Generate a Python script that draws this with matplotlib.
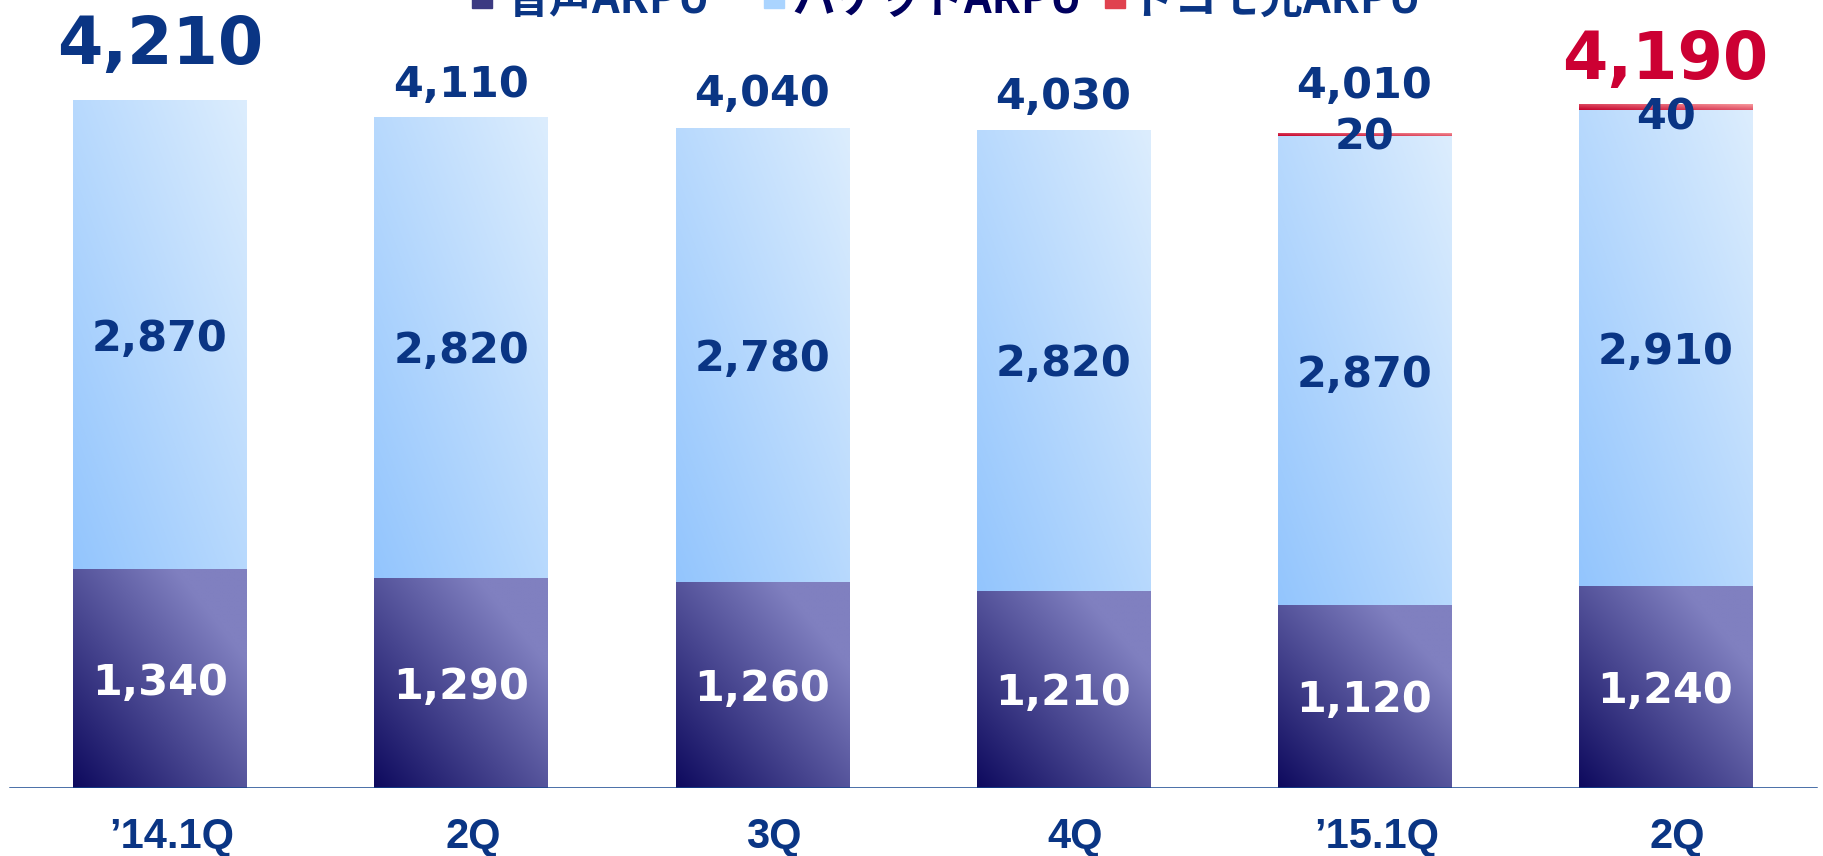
import numpy as np
import matplotlib.pyplot as plt
from matplotlib.colors import to_rgb
from matplotlib.patches import Rectangle
from matplotlib.transforms import ScaledTranslation

quarters = ["’14.1Q", "2Q", "3Q", "4Q", "’15.1Q", "2Q"]
voice = [1340, 1290, 1260, 1210, 1120, 1240]
packet = [2870, 2820, 2780, 2820, 2870, 2910]
hikari = [0, 0, 0, 0, 20, 40]
series_names = ["音声ARPU", "パケットARPU", "ドコモ光ARPU"]

NAVY = "#0a3584"
RED = "#cc0033"
NUM_FONT = "DejaVu Sans"
CAP = 0.729  # cap height of DejaVu Sans Bold, in em

# gradient end points (bottom-left -> top-right) and how fast they saturate
grads = {
    "voice": ("#0e0a5e", "#8080c0", 0.8),
    "packet": ("#93c5fd", "#dcedfd", 1.0),
    "hikari": ("#c4002a", "#fca5a5", 1.0),
}


def gradient(c0, c1, sat, n=80):
    u, v = np.meshgrid(np.linspace(0, 1, n), np.linspace(0, 1, n))
    t = np.clip((u + v) / 2 / sat, 0, 1)[..., None]
    return (1 - t) * np.array(to_rgb(c0)) + t * np.array(to_rgb(c1))


def fill_bars(ax, bars, key):
    img = gradient(*grads[key])
    for p in bars.patches:
        if p.get_height() <= 0:
            continue
        x0, y0 = p.get_x(), p.get_y()
        im = ax.imshow(img, extent=[x0, x0 + p.get_width(), y0, y0 + p.get_height()],
                       origin="lower", aspect="auto", interpolation="bilinear", zorder=2)
        im.set_clip_path(p)


fig = plt.figure(figsize=(18.23, 8.56), dpi=100)
ax = fig.add_axes([0, 67.7 / 856, 1, 788.3 / 856])

x = np.arange(len(quarters))
w = 0.575
voice_a = np.array(voice)
packet_a = np.array(packet)
hikari_a = np.array(hikari)
totals = voice_a + packet_a + hikari_a

b1 = ax.bar(x, voice_a, w, color="none", linewidth=0)
b2 = ax.bar(x, packet_a, w, bottom=voice_a, color="none", linewidth=0)
b3 = ax.bar(x, hikari_a, w, bottom=voice_a + packet_a, color="none", linewidth=0)
fill_bars(ax, b1, "voice")
fill_bars(ax, b2, "packet")
fill_bars(ax, b3, "hikari")

ax.set_xlim(-0.531, 5.523)
ax.set_ylim(0, 788.3 / 0.1634)
for s in ax.spines.values():
    s.set_visible(False)
ax.set_yticks([])
ax.axhline(0, xmin=10 / 1823, xmax=1816 / 1823, color="#14458f", lw=1.8, zorder=3)

ax.set_xticks(x, quarters)
ax.tick_params(axis="x", length=0, pad=21)
nudge = ScaledTranslation(12 / 100, 0, fig.dpi_scale_trans)
for lab in ax.get_xticklabels():
    lab.set_fontfamily(["Liberation Sans Narrow", "Liberation Sans"])
    lab.set_fontweight("bold")
    lab.set_fontsize(30)
    lab.set_color(NAVY)
    lab.set_transform(lab.get_transform() + nudge)

# segment values, centred in each segment
fs = 31
for i in range(len(x)):
    ax.annotate(f"{voice[i]:,}", (x[i], voice[i] / 2), xytext=(0, -CAP * fs / 2),
                textcoords="offset points", ha="center", va="baseline",
                fontsize=fs, fontweight="bold", family=NUM_FONT, color="white", zorder=4)
    ax.annotate(f"{packet[i]:,}", (x[i], voice[i] + packet[i] / 2), xytext=(0, -CAP * fs / 2),
                textcoords="offset points", ha="center", va="baseline",
                fontsize=fs, fontweight="bold", family=NUM_FONT, color=NAVY, zorder=4)

# thin hikari segments: label sits just on / under the strip
hikari_shift = [0, 0, 0, 0, -0.4, -7.2]
for i in range(len(x)):
    if hikari[i] > 0:
        ax.annotate(f"{hikari[i]:,}", (x[i], totals[i]),
                    xytext=(0, hikari_shift[i] - CAP * fs / 2), textcoords="offset points",
                    ha="center", va="baseline", fontsize=fs, fontweight="bold",
                    family=NUM_FONT, color=NAVY, zorder=4)

# totals above the bars; first and latest quarter emphasised
total_pad = [26, 14.4, 15.8, 14.8, 25.2, 18]
total_size = [47, 31, 31, 31, 31, 47]
total_color = [NAVY, NAVY, NAVY, NAVY, NAVY, RED]
for i in range(len(x)):
    ax.annotate(f"{totals[i]:,}", (x[i], totals[i]), xytext=(0, total_pad[i]),
                textcoords="offset points", ha="center", va="baseline",
                fontsize=total_size[i], fontweight="bold", family=NUM_FONT,
                color=total_color[i], annotation_clip=False, zorder=4)

# legend strip along the top edge (runs off the top of the canvas)
leg_sq = [472, 764, 1105]
leg_tx = [507, 792, 1131]
leg_sq_color = ["#3c3a82", "#aad4ff", "#e0424f"]
leg_tx_color = [NAVY, "#00005e", NAVY]
for i, name in enumerate(series_names):
    fig.patches.append(Rectangle((leg_sq[i] / 1823, 1 - 8 / 856), 20 / 1823, 20 / 856,
                                 transform=fig.transFigure, color=leg_sq_color[i]))
    fig.text(leg_tx[i] / 1823, 1 - 13 / 856, name, ha="left", va="baseline",
             fontsize=31, fontweight="bold", color=leg_tx_color[i],
             family=["Noto Sans CJK JP", "DejaVu Sans"])

fig.savefig("out.png", dpi=100)
